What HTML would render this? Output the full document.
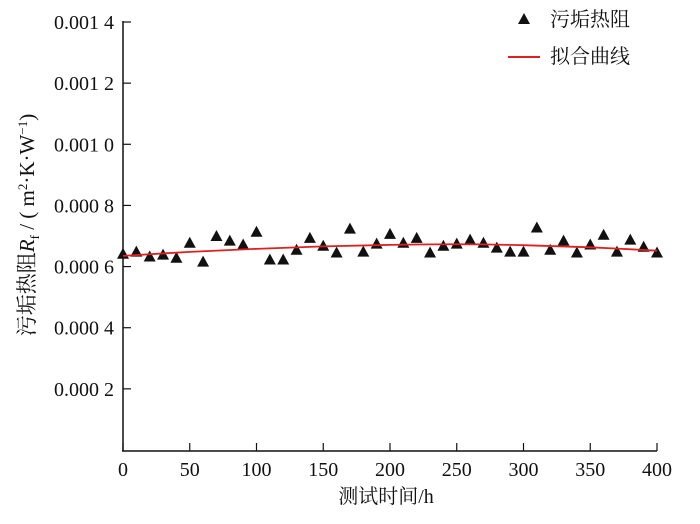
<!DOCTYPE html>
<html><head><meta charset="utf-8"><style>
body{margin:0;background:#fff}
svg text{font-family:"Liberation Serif","Noto Serif CJK SC",serif;fill:#111}
</style></head><body>
<svg width="700" height="519" viewBox="0 0 700 519">
<g id="axes"></g>
<g id="marks"></g>
<g>
 <polygon points="518,24 524,13 530,24" fill="#111"/>
 <text x="550" y="26" font-size="20">污垢热阻</text>
 <line x1="508" y1="57" x2="540" y2="57" stroke="#e02020" stroke-width="2"/>
 <text x="550" y="63" font-size="20">拟合曲线</text>
</g>
<text x="386" y="503" font-size="20" text-anchor="middle">测试时间/h</text>
<text transform="translate(34,225) rotate(-90)" font-size="21" text-anchor="middle">污垢热阻<tspan font-style="italic">R</tspan><tspan font-size="13" dy="5">f</tspan><tspan dy="-5"> / ( m</tspan><tspan font-size="13" dy="-7">2</tspan><tspan dy="7">·K·W</tspan><tspan font-size="13" dy="-7">−1</tspan><tspan dy="7">)</tspan></text>
</svg>
<script>
const xTicks=[0,50,100,150,200,250,300,350,400];
const yTicks=[0.0002,0.0004,0.0006,0.0008,0.0010,0.0012,0.0014];
const yTickLabels=["0.000 2","0.000 4","0.000 6","0.000 8","0.001 0","0.001 2","0.001 4"];
const times=[0,10,20,30,40,50,60,70,80,90,100,110,120,130,140,150,160,170,180,190,200,210,220,230,240,250,260,270,280,290,300,310,320,330,340,350,360,370,380,390,400];
const resistance=[6.42,6.49,6.33,6.39,6.29,6.78,6.16,7.0,6.85,6.72,7.14,6.23,6.23,6.55,6.94,6.68,6.46,7.24,6.49,6.75,7.07,6.78,6.94,6.46,6.68,6.75,6.88,6.78,6.62,6.49,6.49,7.28,6.55,6.85,6.46,6.72,7.04,6.49,6.88,6.65,6.46].map(v=>v*1e-4);
const fitTimes=[0,50,100,150,200,250,300,350,400];
const fitValues=[6.35,6.48,6.58,6.66,6.71,6.73,6.70,6.63,6.52].map(v=>v*1e-4);
const NS="http://www.w3.org/2000/svg";
const X=v=>123+v*(657-123)/400;
const Y=v=>450-v*(428/0.0014);
function mk(t,a,p){const e=document.createElementNS(NS,t);for(const k in a)e.setAttribute(k,a[k]);p.appendChild(e);return e;}
const ax=document.getElementById('axes'),mg=document.getElementById('marks');
let l=mk('line',{x1:123,y1:21,x2:123,y2:451,stroke:'#111','stroke-width':1.5},ax);


l=mk('line',{x1:122,y1:451,x2:657,y2:451,stroke:'#111','stroke-width':1.5},ax);


xTicks.forEach(v=>{
 const t=mk('line',{x1:X(v),y1:451,x2:X(v),y2:443,stroke:'#111','stroke-width':1.2},ax);
 
 
 const tx=mk('text',{x:X(v),y:476,'font-size':20,'text-anchor':'middle'},ax);tx.textContent=v;
 
 
});
yTicks.forEach((v,i)=>{
 const t=mk('line',{x1:123,y1:Y(v),x2:131,y2:Y(v),stroke:'#111','stroke-width':1.2},ax);
 
 
 const tx=mk('text',{x:114,y:Y(v)+7,'font-size':20,'text-anchor':'end'},ax);tx.textContent=yTickLabels[i];
 
 
});
times.forEach((t,i)=>{
 const cx=X(t),cy=Y(resistance[i]);
 const p=mk('polygon',{points:`${cx-6},${cy+5} ${cx},${cy-6} ${cx+6},${cy+5}`,fill:'#111'},mg);
 
 
});
const pts=fitTimes.map((t,i)=>[X(t),Y(fitValues[i])]);
let d=`M${pts[0][0]},${pts[0][1]}`;
for(let i=0;i<pts.length-1;i++){const p0=pts[i-1]||pts[i],p1=pts[i],p2=pts[i+1],p3=pts[i+2]||p2;
 d+=` C${p1[0]+(p2[0]-p0[0])/6},${p1[1]+(p2[1]-p0[1])/6} ${p2[0]-(p3[0]-p1[0])/6},${p2[1]-(p3[1]-p1[1])/6} ${p2[0]},${p2[1]}`;}
const fl=mk('path',{d:d,fill:'none',stroke:'#e02020','stroke-width':1.8},mg);


</script>
</body></html>
